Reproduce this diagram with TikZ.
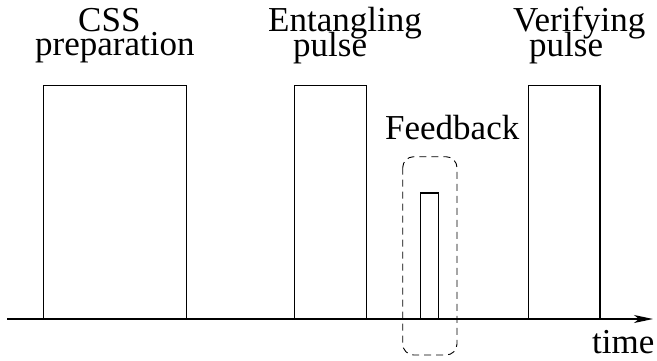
\documentclass[tikz,border=0pt]{standalone}
\usepackage{fontspec}
\setmainfont{LiberationSerif}[Extension=.ttf,UprightFont=*-Regular]
\usetikzlibrary{arrows.meta}
\begin{document}
\begin{tikzpicture}[x=1pt,y=-1pt,
  lbl/.style={anchor=base west,inner sep=0pt,font=\fontsize{35}{35}\selectfont},
  pulsebox/.style={draw,line width=1.2pt},
  fbframe/.style={draw,line width=0.9pt,dash pattern=on 7pt off 5pt,rounded corners=11pt}]
\useasboundingbox (0,0) rectangle (657,360);
% axis
\coordinate (axstart) at (7,319);
\coordinate (axend) at (653,319);
% pulses
\draw[pulsebox] (43.3,319) |- (186.7,85.5) -- (186.7,319);
\draw[pulsebox] (294.7,319) |- (366.7,85.5) -- (366.7,319);
\draw[pulsebox] (528.3,319) |- (600,85.5) -- (600,319);
\draw[pulsebox] (420.7,319) |- (438.7,193) -- (438.7,319);
\draw[line width=1.2pt,-{Stealth[length=19pt,width=8pt,inset=5pt]}] (axstart) -- (axend);
% feedback frame
\draw[fbframe] (402.7,156.7) rectangle (457,355);
% labels
\node[lbl] (css) at (78,31.7) {CSS};
\node[lbl] (prep) at (35,55.5) {preparation};
\node[lbl] (ent) at (268,31.7) {Entangling};
\node[lbl] (entp) at (293,56) {pulse};
\node[lbl] (ver) at (513,31.7) {Verifying};
\node[lbl] (verp) at (529,56) {pulse};
\node[lbl] (fb) at (385,139) {Feedback};
\node[lbl] (time) at (592,353.5) {time};
\end{tikzpicture}
\end{document}
